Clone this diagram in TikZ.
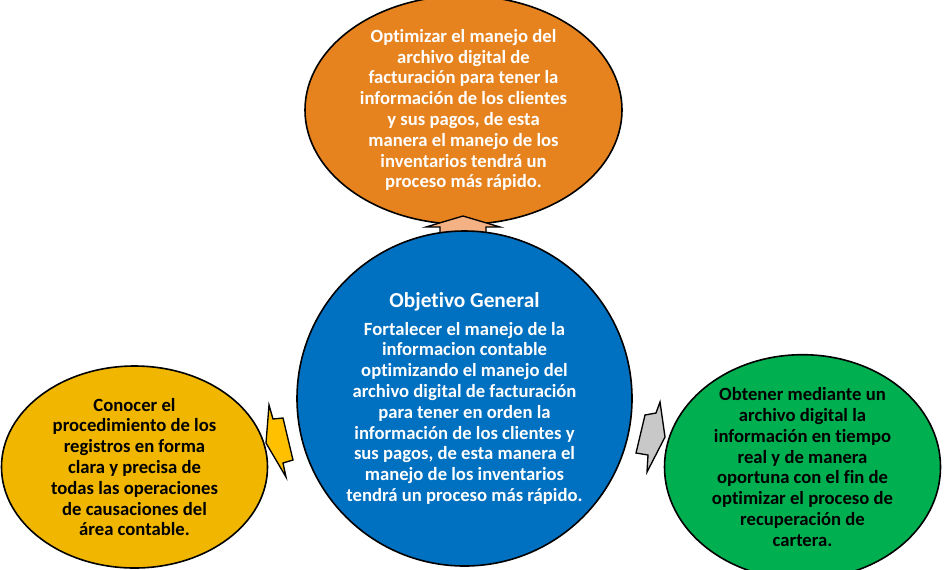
\documentclass[tikz,border=0pt]{standalone}
\usepackage{fontspec}
\setmainfont{Carlito}[Ligatures=NoCommon]
\usetikzlibrary{shapes.geometric}
\definecolor{metaorange}{RGB}{230,131,30}
\definecolor{metablue}{RGB}{0,112,192}
\definecolor{metayellow}{RGB}{240,182,0}
\definecolor{metagreen}{RGB}{0,176,80}
\definecolor{arrowsalmon}{RGB}{244,177,131}
\definecolor{arrowyellow}{RGB}{255,192,0}
\definecolor{arrowgray}{RGB}{200,200,200}

\begin{document}
\begin{tikzpicture}[x=0.75pt, y=-0.75pt, font=\bfseries\fontsize{14}{15.6}\selectfont,
		goal/.style={ellipse, draw=black, line width=1.2pt, inner sep=0pt, align=center},
		blockarrow/.style={draw=black, line width=1pt, line join=miter}]
			\useasboundingbox (0,0) rectangle (944,569);
			\node[goal, fill=metaorange, text=white, minimum width={317*0.75pt}, minimum height={206*0.75pt}] (optimizar) at (463.5,110)
				{Optimizar el manejo del\\ archivo digital de\\ facturación para tener la\\ información de los clientes\\ y sus pagos, de esta\\ manera el manejo de los\\ inventarios tendrá un\\ proceso más rápido.};
			\draw[blockarrow, fill=arrowsalmon] (440,240) -- (440,227) -- (426,227) -- (463,216) -- (500,227) -- (486,227) -- (486,240) -- cycle;
			\node[goal, circle, fill=metablue, text=white, minimum size={335*0.75pt}] (general) at (464.5,398.5)
				{{\fontsize{16}{18}\selectfont Objetivo General}\\[5pt] Fortalecer el manejo de la\\ informacion contable\\ optimizando el manejo del\\ archivo digital de facturación\\ para tener en orden la\\ información de los clientes y\\ sus pagos, de esta manera el\\ manejo de los inventarios\\ tendrá un proceso más rápido.};
			\node[goal, fill=metayellow, text=black, minimum width={266*0.75pt}, minimum height={202*0.75pt}] (conocer) at (134.5,467)
				{Conocer el\\ procedimiento de los\\ registros en forma\\ clara y precisa de\\ todas las operaciones\\ de causaciones del\\ área contable.};
			\node[goal, fill=metagreen, text=black, minimum width={276*0.75pt}, minimum height={198*0.75pt}] (obtener) at (802.5,467)
				{Obtener mediante un\\ archivo digital la\\ información en tiempo\\ real y de manera\\ oportuna con el fin de\\ optimizar el proceso de\\ recuperación de\\ cartera.};
			\draw[blockarrow, fill=arrowyellow] (266,443) -- (269,405) -- (273,419) -- (283,418) -- (293,460) -- (283,463) -- (286,477) -- cycle;
			\draw[blockarrow, fill=arrowgray] (665,437) -- (660,402) -- (656,413) -- (645,415) -- (636,453) -- (648,455) -- (647,472) -- cycle;
		\end{tikzpicture}
\end{document}
